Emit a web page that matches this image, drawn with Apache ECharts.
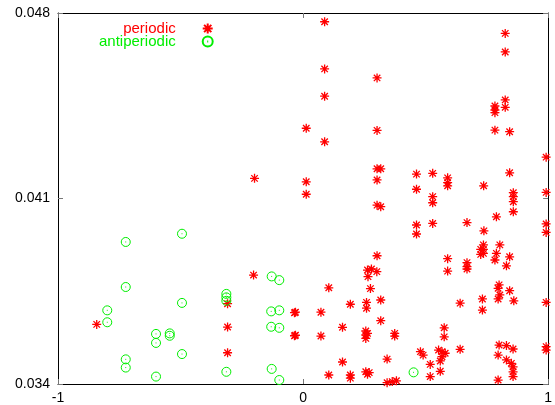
<!DOCTYPE html>
<html>
<head>
<meta charset="utf-8">
<script src="https://cdn.jsdelivr.net/npm/echarts@6/dist/echarts.min.js"></script>
<style>
  html, body { margin: 0; padding: 0; background: #fff; }
  #main { width: 555px; height: 405px; }
</style>
</head>
<body>
<div id="main"></div>
<script>
// [x, y] pairs
var periodic = [
  [-0.842, 0.03625], [-0.202, 0.03811], [-0.308, 0.03703], [-0.308, 0.03615], [-0.308, 0.03518],
  [-0.035, 0.03669], [-0.035, 0.03582], [-0.198, 0.04176],
  [0.013, 0.04365], [0.013, 0.04163], [0.013, 0.04116],
  [0.088, 0.04767], [0.088, 0.04589], [0.088, 0.04486], [0.088, 0.04314],
  [0.302, 0.04555], [0.825, 0.04723], [0.825, 0.04653], [0.302, 0.04357],
  [0.783, 0.04449], [0.783, 0.04424], [0.783, 0.04434], [0.825, 0.04472], [0.825, 0.04444],
  [0.783, 0.04358], [0.843, 0.04352], [0.992, 0.04256], [0.992, 0.04123],
  [0.302, 0.04212], [0.317, 0.04212], [0.302, 0.04170],
  [0.463, 0.04192], [0.463, 0.04135], [0.529, 0.04195], [0.529, 0.04107],
  [0.590, 0.04178], [0.590, 0.04160], [0.590, 0.04148], [0.737, 0.04148], [0.843, 0.04197],
  [0.858, 0.04122], [0.858, 0.04107],
  [0.302, 0.04075], [0.317, 0.04069], [0.529, 0.04084], [0.858, 0.04088], [0.858, 0.04050],
  [0.789, 0.04031], [0.463, 0.04000], [0.463, 0.03966], [0.529, 0.04006], [0.669, 0.04009],
  [0.738, 0.03978], [0.992, 0.04004], [0.992, 0.03972],
  [0.736, 0.03925], [0.736, 0.03908], [0.725, 0.03908], [0.736, 0.03893], [0.725, 0.03889],
  [0.803, 0.03925], [0.789, 0.03893], [0.783, 0.03868], [0.843, 0.03880], [0.830, 0.03846],
  [0.590, 0.03873], [0.590, 0.03826], [0.669, 0.03858], [0.669, 0.03843], [0.669, 0.03834],
  [0.302, 0.03884], [0.263, 0.03830], [0.279, 0.03834], [0.301, 0.03824], [0.265, 0.03805],
  [0.105, 0.03763], [0.275, 0.03760], [0.317, 0.03717], [0.259, 0.03708], [0.259, 0.03686],
  [0.193, 0.03701], [-0.031, 0.03671], [0.073, 0.03671], [-0.031, 0.03584], [0.073, 0.03581],
  [0.161, 0.03614], [0.317, 0.03639], [0.256, 0.03600], [0.256, 0.03585], [0.263, 0.03591],
  [0.256, 0.03572], [0.374, 0.03591], [0.374, 0.03581], [0.161, 0.03483], [0.343, 0.03494],
  [0.105, 0.03434], [0.193, 0.03434], [0.193, 0.03422], [0.256, 0.03446], [0.270, 0.03443],
  [0.263, 0.03437], [0.343, 0.03405], [0.364, 0.03409], [0.381, 0.03412],
  [0.576, 0.03612], [0.576, 0.03578], [0.641, 0.03705], [0.732, 0.03721], [0.732, 0.03679],
  [0.800, 0.03774], [0.796, 0.03761], [0.796, 0.03721], [0.803, 0.03736], [0.843, 0.03752],
  [0.860, 0.03714], [0.992, 0.03708], [0.479, 0.03522], [0.490, 0.03509],
  [0.553, 0.03528], [0.567, 0.03522], [0.580, 0.03516], [0.567, 0.03503], [0.560, 0.03487],
  [0.519, 0.03474], [0.560, 0.03448], [0.519, 0.03428], [0.641, 0.03531],
  [0.800, 0.03547], [0.830, 0.03545], [0.857, 0.03532], [0.796, 0.03509],
  [0.830, 0.03491], [0.850, 0.03478], [0.857, 0.03465], [0.857, 0.03446], [0.857, 0.03428],
  [0.796, 0.03415], [0.992, 0.03541], [0.992, 0.03528]
];
var antiperiodic = [
  [-0.494, 0.03967], [-0.7235, 0.03936], [-0.7235, 0.03766], [-0.494, 0.03706],
  [-0.799, 0.03678], [-0.799, 0.03633], [-0.600, 0.03589], [-0.600, 0.03555],
  [-0.544, 0.03591], [-0.544, 0.03582], [-0.494, 0.03513], [-0.7235, 0.03493],
  [-0.7235, 0.03462], [-0.600, 0.03428], [-0.313, 0.03740], [-0.313, 0.03727],
  [-0.313, 0.03714], [-0.313, 0.03446], [-0.128, 0.03806], [-0.097, 0.03792],
  [-0.130, 0.03674], [-0.097, 0.03678], [-0.130, 0.03616], [-0.097, 0.03612],
  [-0.128, 0.03457], [-0.097, 0.03415], [0.451, 0.03444]
];
var xTicks = [-1, 0, 1];
var yTicks = [0.034, 0.041, 0.048];

var RED = '#ff0000';
var GREEN = '#00ee00';
var starPath = 'path://M0,-5L0,5M-5,0L5,0M-3.6,-3.6L3.6,3.6M-3.6,3.6L3.6,-3.6';
var circlePath = 'path://M-5,0A5,5,0,1,1,5,0A5,5,0,1,1,-5,0ZM-0.5,0L0.5,0';

var chart = echarts.init(document.getElementById('main'));

var axisLine = { show: true, onZero: false, lineStyle: { color: '#000', width: 1 } };
var tick = { inside: true, length: 5, lineStyle: { color: '#777' } };
var labelFont = { fontFamily: 'Liberation Sans, Arial, sans-serif', fontSize: 14, color: '#000' };

chart.setOption({
  animation: false,
  backgroundColor: '#fff',
  grid: { left: 58, right: 3, top: 13, bottom: 21, containLabel: false },
  legend: {
    orient: 'vertical',
    align: 'right',
    left: 99,
    top: 21,
    padding: 0,
    itemGap: -2,
    itemWidth: 54,
    itemHeight: 10,
    textStyle: { fontFamily: 'Liberation Sans, Arial, sans-serif', fontSize: 15 },
    data: [
      { name: 'periodic', icon: starPath, textStyle: { color: RED } },
      { name: 'antiperiodic', icon: circlePath, textStyle: { color: GREEN } }
    ]
  },
  xAxis: [{
    type: 'value', min: -1, max: 1,
    axisLine: axisLine,
    splitLine: { show: false },
    axisTick: Object.assign({ customValues: xTicks }, tick),
    axisLabel: Object.assign({ margin: 7, customValues: xTicks }, labelFont)
  }, {
    type: 'value', min: -1, max: 1, position: 'top',
    axisLine: axisLine,
    splitLine: { show: false },
    axisTick: Object.assign({ customValues: xTicks }, tick),
    axisLabel: { show: false }
  }],
  yAxis: [{
    type: 'value', min: 0.034, max: 0.048,
    axisLine: axisLine,
    splitLine: { show: false },
    axisTick: Object.assign({ customValues: yTicks }, tick),
    axisLabel: Object.assign({ margin: 8, customValues: yTicks }, labelFont)
  }, {
    type: 'value', min: 0.034, max: 0.048, position: 'right',
    axisLine: axisLine,
    splitLine: { show: false },
    axisTick: Object.assign({ customValues: yTicks }, tick),
    axisLabel: { show: false }
  }],
  series: [{
    name: 'periodic',
    type: 'scatter',
    symbol: starPath,
    symbolSize: 9,
    itemStyle: { color: 'transparent', borderColor: RED, borderWidth: 1.3, opacity: 1 },
    data: periodic
  }, {
    name: 'antiperiodic',
    type: 'scatter',
    symbol: circlePath,
    symbolSize: 9,
    itemStyle: { color: 'transparent', borderColor: GREEN, borderWidth: 1, opacity: 1 },
    data: antiperiodic
  }]
});
</script>
</body>
</html>
